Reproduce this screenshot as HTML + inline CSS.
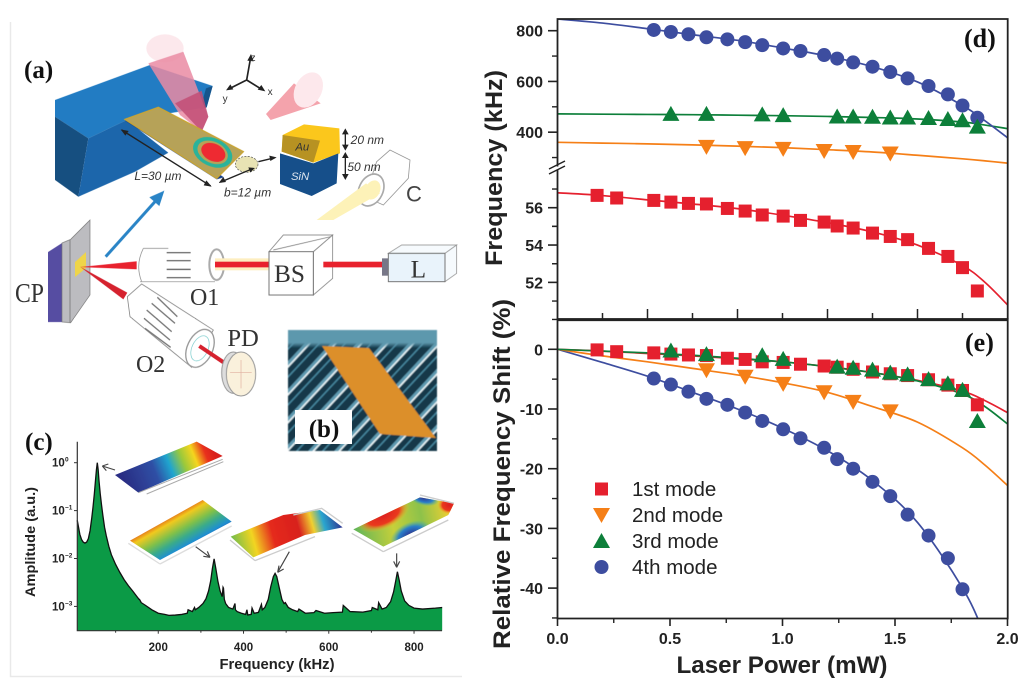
<!DOCTYPE html>
<html lang="en">
<head>
<meta charset="utf-8">
<title>Cantilever laser power frequency response</title>
<style>
html,body{margin:0;padding:0;background:#fff;}
svg{display:block;}
text{font-family:"Liberation Sans",sans-serif;}
.serif{font-family:"Liberation Serif",serif;}
#panels,#spectrum{filter:blur(0.35px);}
</style>
</head>
<body>
<svg id="figure" xmlns="http://www.w3.org/2000/svg" width="1024" height="690" viewBox="0 0 1024 690">
<defs>
  <filter id="soft" x="-5%" y="-5%" width="110%" height="110%"><feGaussianBlur stdDeviation="0.55"/></filter>
  <linearGradient id="inset1" gradientUnits="userSpaceOnUse" x1="380" y1="190" x2="640" y2="85">
    <stop offset="0" stop-color="#2b2f85"/><stop offset=".33" stop-color="#2f4fa5"/><stop offset=".5" stop-color="#1fa5cf"/><stop offset=".65" stop-color="#9cc93a"/><stop offset=".78" stop-color="#f5d51f"/><stop offset=".9" stop-color="#e8301f"/><stop offset="1" stop-color="#d8201f"/>
  </linearGradient>
  <linearGradient id="inset2" gradientUnits="userSpaceOnUse" x1="530" y1="262" x2="600" y2="385">
    <stop offset="0" stop-color="#d8201f"/><stop offset=".22" stop-color="#f1c91f"/><stop offset=".45" stop-color="#7fc04a"/><stop offset=".62" stop-color="#3aab8a"/><stop offset=".8" stop-color="#1f8fd0"/><stop offset="1" stop-color="#2f2f90"/>
  </linearGradient>
  <linearGradient id="inset3" gradientUnits="userSpaceOnUse" x1="700" y1="390" x2="1020" y2="300">
    <stop offset="0" stop-color="#6dbb50"/><stop offset=".2" stop-color="#f2d520"/><stop offset=".38" stop-color="#e52a1f"/><stop offset=".62" stop-color="#d8201f"/><stop offset=".75" stop-color="#f0d030"/><stop offset=".85" stop-color="#2aa6cf"/><stop offset="1" stop-color="#2f3a95"/>
  </linearGradient>
  <linearGradient id="inset4" gradientUnits="userSpaceOnUse" x1="1060" y1="330" x2="1350" y2="270">
    <stop offset="0" stop-color="#5fb45a"/><stop offset=".4" stop-color="#c6d03a"/><stop offset=".7" stop-color="#8dc24a"/><stop offset="1" stop-color="#f0d030"/>
  </linearGradient>
  <radialGradient id="redSpot"><stop offset="0" stop-color="#dd2020"/><stop offset=".6" stop-color="#ea3a1f"/><stop offset="1" stop-color="#f2c520" stop-opacity="0"/></radialGradient>
  <radialGradient id="blueSpot"><stop offset="0" stop-color="#2f2f90"/><stop offset=".6" stop-color="#2a7fc8"/><stop offset="1" stop-color="#40b0b0" stop-opacity="0"/></radialGradient>
  <linearGradient id="semTop" x1="0" y1="0" x2="0" y2="1">
    <stop offset="0" stop-color="#5d98ad"/><stop offset=".7" stop-color="#5d98ad"/><stop offset="1" stop-color="#5d98ad" stop-opacity="0"/>
  </linearGradient>
  <clipPath id="inset4Clip"><polygon points="1060,328 1260,232 1362,250 1345,285 1150,380"/></clipPath>
  <pattern id="semStripes" patternUnits="userSpaceOnUse" width="19" height="19" patternTransform="rotate(-47)">
    <rect width="19" height="19" fill="#12384a"/>
    <rect y="1" width="19" height="3" fill="#5e9ab0"/>
    <rect y="4" width="19" height="1.6" fill="#eaf5f8"/>
    <rect y="11" width="19" height="1.4" fill="#4a8ba3"/>
  </pattern>
  <clipPath id="plotD"><rect x="557.5" y="19" width="450" height="300"/></clipPath>
  <clipPath id="plotE"><rect x="557.5" y="320" width="450" height="298.5"/></clipPath>
</defs>

<rect x="0" y="0" width="1024" height="690" fill="#fff"/>
<path d="M10.5 22V676.5H462" fill="none" stroke="#e9e9e9" stroke-width="1.5"/>

<!-- Panel a upper: cantilever -->
<g transform="translate(0,20) scale(0.33333)">
  <g filter="url(#soft)">
    <polygon points="165,240 450,135 638,198 620,262 380,300 265,355 165,290" fill="#217cc3"/>
    <polygon points="165,290 265,355 235,530 165,480" fill="#174f80"/>
    <polygon points="265,355 380,300 505,398 405,455 235,530" fill="#1b66ab"/>
    <polygon points="618,205 638,198 620,262 600,270" fill="#17548c"/>
    <ellipse cx="495" cy="85" rx="56" ry="42" fill="#fce8ec"/>
    <polygon points="445,130 550,95 625,290 605,335 540,285" fill="#ea8ba3" opacity=".85"/>
    <polygon points="525,250 605,212 625,290 605,335" fill="#c24f75" opacity=".85"/>
    <polygon points="375,302 650,478 672,472 395,290" fill="#17408a"/>
    <polygon points="375,298 475,262 730,395 650,475" fill="#b6a258" stroke="#c9a535" stroke-width="4"/>
    <ellipse cx="638" cy="397" rx="62" ry="42" transform="rotate(25 638 397)" fill="#2cb39a"/>
    <ellipse cx="638" cy="397" rx="48" ry="32" transform="rotate(25 638 397)" fill="#b6a258"/>
    <ellipse cx="640" cy="397" rx="38" ry="26" transform="rotate(25 640 397)" fill="#ee2b32"/>
    <ellipse cx="740" cy="433" rx="34" ry="24" fill="#e8e3b4" stroke="#555" stroke-width="2" stroke-dasharray="6 4"/>
    <polygon points="882,190 962,250 812,300 798,282" fill="#f4a3ac"/>
    <ellipse cx="925" cy="210" rx="40" ry="56" transform="rotate(28 925 210)" fill="#fde8ec"/>
    <!-- axes triad -->
    <path d="M740 180L752 112M740 180L690 205M740 180L785 208" stroke="#222" stroke-width="5" fill="none"/>
    <path d="M753 102l-11 20 19 2zM678 211l22-3-9-15zM796 214l-12-19-11 14z" fill="#222"/>
    <!-- layered block -->
    <polygon points="848,345 912,313 1018,325 1020,400 940,428 845,395" fill="#fbc71f"/>
    <polygon points="848,345 960,362 940,428 845,395" fill="#b79223"/>
    <polygon points="840,400 940,430 1015,400 1010,490 935,528 840,492" fill="#14508a"/>
    <!-- dims -->
    <path d="M365 330L632 498M665 485L760 445M775 425L825 413M1036 330V388M1036 400V475" stroke="#222" stroke-width="4" fill="none"/>
    <path d="M362 328l24 5-10 14zM635 500l-24-4 8-15zM656 489l22-3-8-15zM765 444l-20-2 6 15zM830 412l-22-5 3 16zM1036 325l-10 18h20zM1036 392l-10-18h20zM1036 396l-10 18h20zM1036 480l-10-18h20z" fill="#222"/>
    <!-- collimator -->
    <polygon points="1130,425 1170,390 1230,420 1225,475 1150,555 1095,530" fill="#fff" stroke="#999" stroke-width="2.5"/>
    <ellipse cx="1113" cy="510" rx="36" ry="50" transform="rotate(25 1113 510)" fill="#fff" stroke="#aaa" stroke-width="5"/>
    <ellipse cx="1118" cy="510" rx="22" ry="30" transform="rotate(25 1118 510)" fill="#fdf2b8"/>
    <polygon points="1098,490 1140,520 1000,600 950,600" fill="#fdf2b8"/>
  </g>
  <text x="752" y="123" font-size="30" fill="#333">z</text>
  <text x="668" y="246" font-size="30" fill="#333">y</text>
  <text x="803" y="225" font-size="30" fill="#333">x</text>
  <text x="886" y="392" font-size="34" font-style="italic" fill="#333">Au</text>
  <text x="873" y="480" font-size="34" font-style="italic" fill="#dfe7f0">SiN</text>
  <text x="1052" y="372" font-size="36" font-style="italic" fill="#333">20 nm</text>
  <text x="1042" y="453" font-size="36" font-style="italic" fill="#333">50 nm</text>
  <text x="403" y="480" font-size="36" font-style="italic" fill="#333">L=30 µm</text>
  <text x="672" y="530" font-size="36" font-style="italic" fill="#333">b=12 µm</text>
  <text x="1218" y="545" font-size="66" fill="#444">C</text>
</g>
<text class="serif" x="24" y="78" font-size="25" font-weight="bold" fill="#111">(a)</text>

<!-- Panel a lower: optical path -->
<g transform="translate(40,190) scale(0.33333)">
  <g filter="url(#soft)">
    <polygon points="24,186 66,159 66,396 24,396" fill="#574ea2"/>
    <polygon points="66,159 92,148 150,90 150,315 92,398 66,396" fill="#bcbcc0" stroke="#777" stroke-width="2"/>
    <path d="M90 150V398" stroke="#666" stroke-width="2"/>
    <polygon points="105,216 138,186 138,234 105,261" fill="#efd548"/>
    <polygon points="120,231 290,214 290,238" fill="#e8202f"/>
    <polygon points="120,230 262,308 250,328" fill="#d5202f"/>
    <path d="M197 200L360 18" stroke="#2a84c6" stroke-width="9" fill="none"/>
    <path d="M373 2L328 22 358 48z" fill="#2a84c6"/>
    <!-- O1 -->
    <path d="M310 175H385M300 275H525M310 175Q285 225 305 275" fill="none" stroke="#999" stroke-width="2.5"/>
    <path d="M380 188H452M380 212H452M380 238H452M380 263H452" stroke="#666" stroke-width="4"/>
    <ellipse cx="530" cy="224" rx="22" ry="46" fill="none" stroke="#aaa" stroke-width="6"/>
    <rect x="525" y="205" width="165" height="36" fill="#fdeec0"/>
    <rect x="525" y="215" width="162" height="17" fill="#e8202f"/>
    <!-- BS -->
    <polygon points="820,185 878,135 878,265 820,315" fill="#fff" stroke="#888" stroke-width="2.5"/>
    <polygon points="687,185 730,135 878,135 820,185" fill="#fff" stroke="#888" stroke-width="2.5"/>
    <path d="M700 180L872 140" stroke="#888" stroke-width="2.5"/>
    <rect x="687" y="185" width="133" height="130" fill="#fff" stroke="#777" stroke-width="3"/>
    <rect x="850" y="215" width="180" height="17" fill="#e8202f"/>
    <!-- L -->
    <rect x="1026" y="205" width="20" height="52" fill="#778"/>
    <polygon points="1045,190 1085,165 1250,165 1215,190" fill="#f6fafd" stroke="#999" stroke-width="2.5"/>
    <polygon points="1215,190 1250,165 1250,250 1215,275" fill="#f6fafd" stroke="#999" stroke-width="2.5"/>
    <rect x="1045" y="190" width="170" height="85" fill="#e9f3fb" stroke="#777" stroke-width="3"/>
    <!-- O2 -->
    <polygon points="262,320 305,282 520,420 455,532 270,380" fill="#fff" stroke="#888" stroke-width="2.5"/>
    <path d="M352 322L412 380M335 340L405 400M320 360L395 425M312 385L390 450M315 415L392 472" stroke="#777" stroke-width="4"/>
    <ellipse cx="480" cy="475" rx="38" ry="60" transform="rotate(25 480 475)" fill="#fff" stroke="#999" stroke-width="4"/>
    <ellipse cx="480" cy="475" rx="24" ry="40" transform="rotate(25 480 475)" fill="#fff" stroke="#7cc" stroke-width="2"/>
    <path d="M478 468L555 520" stroke="#d5202f" stroke-width="12"/>
    <ellipse cx="580" cy="548" rx="35" ry="62" fill="#ddd" stroke="#999" stroke-width="3"/>
    <ellipse cx="603" cy="552" rx="44" ry="66" fill="#faf1dc" stroke="#999" stroke-width="3"/>
    <path d="M603 510V595M570 548H635" stroke="#e0b0a0" stroke-width="2"/>
  </g>
  <text class="serif" x="702" y="276" font-size="76" fill="#333">BS</text>
  <text class="serif" x="1112" y="262" font-size="76" fill="#333">L</text>
  <text class="serif" x="450" y="345" font-size="72" fill="#333">O1</text>
  <text class="serif" x="288" y="546" font-size="72" fill="#333">O2</text>
  <text class="serif" x="562" y="468" font-size="74" fill="#333">PD</text>
</g>
<text class="serif" x="15" y="302" font-size="27" fill="#333" textLength="29" lengthAdjust="spacingAndGlyphs">CP</text>

<!-- Panel b -->
<g>
  <g filter="url(#soft)">
    <rect x="288" y="330" width="149" height="121" fill="url(#semStripes)"/>
    <rect x="288" y="330" width="149" height="18" fill="url(#semTop)"/>
    <polygon points="322,346 369,348 436,438 380,434" fill="#dc8f2c"/>
  </g>
  <rect x="295" y="410" width="57" height="34" fill="#fff"/>
  <text class="serif" x="324" y="437" font-size="25" font-weight="bold" fill="#111" text-anchor="middle">(b)</text>
</g>

<!-- Panel c -->
<text class="serif" x="25" y="450" font-size="25" font-weight="bold" fill="#111">(c)</text>
<g id="spectrum"></g>
<g transform="translate(0,420) scale(0.33333)">
  <g filter="url(#soft)">
    <polygon points="345,165 590,65 668,108 415,218" fill="url(#inset1)"/>
    <path d="M415 218L668 118M440 222L670 125" stroke="#aaa" stroke-width="3" fill="none"/>
    <polygon points="390,362 608,240 695,305 480,420" fill="url(#inset2)"/>
    <path d="M480 432L695 318M385 370L480 432" stroke="#ddd" stroke-width="4" fill="none"/>
    <polygon points="692,350 850,285 960,270 1028,322 915,345 760,412" fill="url(#inset3)"/>
    <path d="M765 422L945 350M690 360L765 422M880 285L965 265 1028 310" stroke="#ccc" stroke-width="4" fill="none"/>
    <polygon points="1060,328 1260,232 1362,250 1345,285 1150,380" fill="url(#inset4)"/>
    <g clip-path="url(#inset4Clip)">
      <ellipse cx="1150" cy="285" rx="85" ry="42" transform="rotate(-25 1150 285)" fill="url(#redSpot)"/>
      <ellipse cx="1232" cy="345" rx="65" ry="38" transform="rotate(-25 1232 345)" fill="url(#blueSpot)"/>
      <ellipse cx="1270" cy="232" rx="48" ry="24" transform="rotate(15 1270 232)" fill="url(#blueSpot)"/>
      <ellipse cx="1348" cy="255" rx="36" ry="28" fill="url(#redSpot)"/>
    </g>
    <path d="M1150 395L1345 300M1055 340L1150 395M1260 225L1362 250" stroke="#ccc" stroke-width="4" fill="none"/>
    <g stroke="#444" stroke-width="3.5" fill="none">
      <path d="M345 150L307 138M307 138l18-6M307 138l12 14"/>
      <path d="M587 380L630 412M630 412l-20-3M630 412l-8-18"/>
      <path d="M868 395L833 457M833 457l4-20M833 457l18-10"/>
      <path d="M1190 400V442M1190 442l-9-18M1190 442l9-18"/>
    </g>
  </g>
</g>

<!-- Panels d and e -->
<g id="panels"></g>

<script>
// ---------- Panel d / e data ----------
const powerMode1 = [0.176,0.263,0.428,0.504,0.582,0.662,0.755,0.834,0.91,1.003,1.08,1.185,1.243,1.314,1.40,1.479,1.556,1.649,1.735,1.80,1.866];
const powerMode2 = [0.662,0.834,1.003,1.185,1.314,1.479];
const powerMode3 = [0.504,0.662,0.91,1.003,1.243,1.314,1.40,1.479,1.556,1.649,1.735,1.80,1.866];
const powerMode4 = [0.428,0.504,0.582,0.662,0.755,0.834,0.91,1.003,1.08,1.185,1.243,1.314,1.40,1.479,1.556,1.649,1.735,1.80,1.866];
const freqMode1 = [56.66,56.52,56.39,56.30,56.23,56.20,55.96,55.82,55.61,55.55,55.32,55.23,55.02,54.91,54.64,54.46,54.29,53.82,53.39,52.79,51.54];
const freqMode2 = [342,337,334,326,322,316];
const freqMode3 = [472,472,470,467,462,462,461,458,458,456,452,447,422];
const freqMode4 = [803,795,786,774,766,755,743,730,720,704,690,675,658,637,612,582,549,505,457];
const shiftMode1 = [-0.1,-0.4,-0.6,-0.8,-0.95,-1.05,-1.5,-1.7,-2.1,-2.2,-2.5,-2.8,-3.0,-3.35,-3.8,-4.1,-4.4,-5.1,-6.0,-6.9,-9.3];
const shiftMode2 = [-3.5,-4.6,-5.8,-7.2,-8.8,-10.4];
const shiftMode3 = [-0.2,-0.8,-1.0,-1.6,-2.9,-3.1,-3.4,-3.9,-4.2,-5.0,-5.7,-6.8,-12.0];
const shiftMode4 = [-4.9,-5.9,-7.1,-8.3,-9.3,-10.6,-12.0,-13.4,-14.9,-16.5,-18.4,-20.0,-22.2,-24.6,-27.7,-31.2,-35.0,-40.2];
const fitPower = [0,0.2,0.4,0.6,0.8,1.0,1.2,1.4,1.6,1.8,1.9,2.0];
const fitFreq1 = [56.8,56.65,56.42,56.2,55.95,55.6,55.2,54.7,54.0,52.9,52.0,50.8];
const fitFreq2 = [360,357,354,350,345,339,331,322,309,295,287,278];
const fitFreq3 = [472,471,470,469,467,465,462,458,452,440,428,414];
const fitFreq4 = [846,830,808,784,762,732,700,658,598,505,445,378];
const fitShift1 = [0,-0.3,-0.7,-1.1,-1.6,-2.1,-2.9,-3.9,-5.2,-7.0,-8.6,-10.6];
const fitShift2 = [0,-1.1,-2.1,-3.2,-4.3,-5.6,-7.2,-9.6,-12.2,-16.5,-19.4,-22.8];
const fitShift3 = [0,-0.3,-0.6,-1.0,-1.5,-2.1,-2.9,-3.9,-5.3,-7.5,-9.6,-12.5];
const fitShift4 = [0,-2.2,-4.5,-7.2,-10.0,-13.2,-17.0,-22.0,-29.0,-40.0,-48.0,-58.0];
const xTickLabels = ["0.0","0.5","1.0","1.5","2.0"];
const upperTickLabels = ["800","600","400"];
const lowerTickLabels = ["56","54","52"];
const shiftTickLabels = ["0","-10","-20","-30","-40"];
const legendLabels = ["1st mode","2nd mode","3rd mode","4th mode"];
// ---------- Panel c data ----------
const specFreq = [10,13,16,20,24,28,32,36,40,44,47,50,53,55,57,59,61,64,67,70,74,78,84,90,100,110,120,130,140,150,155,156,157,160,170,185,200,215,225,240,255,268,270,280,285,287,295,305,312,318,323,327,331,335,340,345,350,352,353,355,358,365,375,380,381,385,395,405,408,410,418,420,425,435,442,444,450,458,464,470,474,478,484,490,495,498,505,515,527,530,545,565,570,590,610,632,634,650,680,700,702,715,717,725,735,745,752,757,761,765,770,778,788,800,820,850,866];
const specAmp = [0.063,0.045,0.032,0.025,0.022,0.021,0.022,0.026,0.038,0.07,0.12,0.22,0.45,0.72,1.0,0.72,0.42,0.22,0.13,0.08,0.045,0.03,0.018,0.012,0.0075,0.0051,0.0036,0.0027,0.0021,0.0016,0.0014,0.0014,0.00135,0.0012,0.00105,0.00085,0.00072,0.00068,0.00065,0.00066,0.00068,0.00072,0.00085,0.00078,0.00095,0.00085,0.00095,0.00115,0.00145,0.0021,0.0034,0.0062,0.0098,0.0062,0.0033,0.0021,0.0016,0.0025,0.0024,0.0014,0.00115,0.00095,0.00088,0.00115,0.00085,0.00078,0.00072,0.00068,0.00085,0.00066,0.00068,0.00092,0.00072,0.00075,0.0011,0.00085,0.00095,0.0014,0.0026,0.0042,0.0049,0.0042,0.0024,0.0014,0.00115,0.0012,0.00095,0.00085,0.00078,0.00088,0.00072,0.00074,0.00082,0.00072,0.00074,0.00076,0.00105,0.00078,0.00076,0.00082,0.00095,0.00085,0.0012,0.00088,0.00095,0.00125,0.002,0.0034,0.0053,0.0036,0.0021,0.0013,0.00105,0.00092,0.00088,0.00092,0.00095];
const specTickFreq = [200,400,600,800];
const specMinorFreq = [100,300,500,700];
const specDecades = [0,-1,-2,-3];

const NS = "http://www.w3.org/2000/svg";
function el(parent, tag, attrs){
  const node = document.createElementNS(NS, tag);
  for (const k in attrs) node.setAttribute(k, attrs[k]);
  parent.appendChild(node);
  return node;
}
// Axis functions
const xP = p => 557.5 + p * 225;
const yUpper = f => 30.7 + (800 - f) * 0.2537;
const yLower = f => 207.7 + (56 - f) * 18.67;
const yShift = s => 349.3 - s * 5.97;
const xSpec = f => 73 + f * 0.4263;
const ySpec = a => 462.7 - Math.log10(a) * 47.9;

function smooth(pts){
  let d = "M" + pts[0][0].toFixed(2) + " " + pts[0][1].toFixed(2);
  for (let i = 0; i < pts.length - 1; i++){
    const p0 = pts[Math.max(i-1,0)], p1 = pts[i], p2 = pts[i+1], p3 = pts[Math.min(i+2,pts.length-1)];
    const c1x = p1[0] + (p2[0]-p0[0])/6, c1y = p1[1] + (p2[1]-p0[1])/6;
    const c2x = p2[0] - (p3[0]-p1[0])/6, c2y = p2[1] - (p3[1]-p1[1])/6;
    d += "C" + [c1x,c1y,c2x,c2y,p2[0],p2[1]].map(v => v.toFixed(2)).join(" ");
  }
  return d;
}
const COLORS = {1:"#e5202e",2:"#f57f17",3:"#0d7f3a",4:"#3d4d9f"};
const root = document.getElementById("panels");

function marker(parent, mode, cx, cy, scale){
  const s = scale || 1;
  let m;
  if (mode === 1) m = el(parent,"rect",{x:cx-6.5*s,y:cy-6.5*s,width:13*s,height:13*s,fill:COLORS[1]});
  else if (mode === 2) m = el(parent,"polygon",{points:[cx-8.5*s,cy-7*s,cx+8.5*s,cy-7*s,cx,cy+8*s].join(" "),fill:COLORS[2]});
  else if (mode === 3) m = el(parent,"polygon",{points:[cx-8.5*s,cy+7*s,cx+8.5*s,cy+7*s,cx,cy-8*s].join(" "),fill:COLORS[3]});
  else m = el(parent,"circle",{cx:cx,cy:cy,r:7*s,fill:COLORS[4]});
  return m;
}
function label(parent, x, y, str, size, anchor, weight, color){
  const t = el(parent,"text",{x:x,y:y,"font-size":size,"text-anchor":anchor||"middle","font-weight":weight||"bold",fill:color||"#222"});
  t.textContent = str;
  return t;
}

// ---- Panel d ----
const gD = el(root,"g",{});


const dCurves = el(gD,"g",{"clip-path":"url(#plotD)"});
const dFits = [[1,fitFreq1,yLower],[2,fitFreq2,yUpper],[3,fitFreq3,yUpper],[4,fitFreq4,yUpper]];
dFits.forEach(function(f){
  const path = el(dCurves,"path",{d:smooth(fitPower.map((p,i)=>[xP(p),f[2](f[1][i])])),fill:"none",stroke:COLORS[f[0]],"stroke-width":1.7});
  
  
});
const dMarks = [[1,powerMode1,freqMode1,yLower],[2,powerMode2,freqMode2,yUpper],[3,powerMode3,freqMode3,yUpper],[4,powerMode4,freqMode4,yUpper]];
[4,3,2,1].forEach(function(mode){
  const s = dMarks[mode-1];
  s[1].forEach(function(p,i){
    const m = marker(gD,mode,xP(p),s[3](s[2][i]));
    
    
  });
});
const frameD = el(gD,"path",{d:"M557.5 319V19H1007.7V319",fill:"none",stroke:"#222","stroke-width":1.8});


upperTickLabels.forEach(function(lbl){
  const v = Number(lbl), y = yUpper(v);
  el(gD,"line",{x1:548,x2:557.5,y1:y,y2:y,stroke:"#222","stroke-width":1.6});
  const minorY = yUpper(v-100);
  el(gD,"line",{x1:552,x2:557.5,y1:minorY,y2:minorY,stroke:"#222","stroke-width":1.4});
  const t = label(gD,543,y+6,lbl,16,"end");
  
  
});
lowerTickLabels.forEach(function(lbl){
  const v = Number(lbl), y = yLower(v);
  el(gD,"line",{x1:548,x2:557.5,y1:y,y2:y,stroke:"#222","stroke-width":1.6});
  const minorY = yLower(v+1);
  el(gD,"line",{x1:552,x2:557.5,y1:minorY,y2:minorY,stroke:"#222","stroke-width":1.4});
  const minorY2 = yLower(v-1);
  el(gD,"line",{x1:552,x2:557.5,y1:minorY2,y2:minorY2,stroke:"#222","stroke-width":1.4});
  const t = label(gD,543,y+6,lbl,16,"end");
  
  
});
const breakGap = el(gD,"rect",{x:555,y:166.5,width:5,height:3,fill:"#fff"});


const breakMark = el(gD,"path",{d:"M549 169L565 161M549 174L565 166",stroke:"#222","stroke-width":1.5,fill:"none"});


for (let i = 1; i < 10; i++){
  const x = xP(i*0.2);
  el(gD,"line",{x1:x,x2:x,y1:319,y2:i%2===0?309:313,stroke:"#222","stroke-width":1.5});
}
const titleD = label(gD,0,0,"Frequency (kHz)",24,"middle");
titleD.setAttribute("transform","translate(502,168) rotate(-90)");
titleD.setAttribute("textLength","196");
titleD.setAttribute("lengthAdjust","spacingAndGlyphs");


const labelD = el(gD,"text",{x:964,y:47,"font-size":26,"font-weight":"bold",fill:"#111","class":"serif"});
labelD.textContent = "(d)";



// ---- Panel e ----
const gE = el(root,"g",{});


const eClip = el(gE,"g",{"clip-path":"url(#plotE)"});
const eFits = [[4,fitShift4],[2,fitShift2],[1,fitShift1],[3,fitShift3]];
eFits.forEach(function(f){
  const path = el(eClip,"path",{d:smooth(fitPower.map((p,i)=>[xP(p),yShift(f[1][i])])),fill:"none",stroke:COLORS[f[0]],"stroke-width":1.7});
  
  
});
const eMarks = [[4,powerMode4.slice(0,shiftMode4.length),shiftMode4],[2,powerMode2,shiftMode2],[1,powerMode1,shiftMode1],[3,powerMode3,shiftMode3]];
eMarks.forEach(function(s){
  s[1].forEach(function(p,i){
    const m = marker(gE,s[0],xP(p),yShift(s[2][i]));
    
    
  });
});
const frameE = el(gE,"path",{d:"M557.5 319.3H1007.7V618.5H557.5Z",fill:"none",stroke:"#222","stroke-width":1.8});


el(gE,"line",{x1:557.5,x2:1007.7,y1:319.6,y2:319.6,stroke:"#222","stroke-width":3});
shiftTickLabels.forEach(function(lbl){
  const v = Number(lbl), y = yShift(v);
  el(gE,"line",{x1:548,x2:557.5,y1:y,y2:y,stroke:"#222","stroke-width":1.6});
  const minorY = yShift(v-5);
  el(gE,"line",{x1:552,x2:557.5,y1:minorY,y2:minorY,stroke:"#222","stroke-width":1.4});
  const t = label(gE,543,y+6,lbl,16,"end");
  
  
});
el(gE,"line",{x1:552,x2:557.5,y1:yShift(5),y2:yShift(5),stroke:"#222","stroke-width":1.4});
xTickLabels.forEach(function(lbl){
  const v = Number(lbl), x = xP(v);
  el(gE,"line",{x1:x,x2:x,y1:618.5,y2:626,stroke:"#222","stroke-width":1.6});
  if (v < 2){
    const mx = xP(v+0.25);
    el(gE,"line",{x1:mx,x2:mx,y1:618.5,y2:623,stroke:"#222","stroke-width":1.4});
  }
  const t = label(gE,x,644,lbl,16,"middle");
  
  
});
const titleE = label(gE,0,0,"Relative Frequency Shift (%)",24,"middle");
titleE.setAttribute("transform","translate(510,474) rotate(-90)");
titleE.setAttribute("textLength","350");
titleE.setAttribute("lengthAdjust","spacingAndGlyphs");


const titleX = label(gE,782,673,"Laser Power (mW)",24,"middle");
titleX.setAttribute("textLength","211");
titleX.setAttribute("lengthAdjust","spacingAndGlyphs");


const labelE = el(gE,"text",{x:965,y:351,"font-size":26,"font-weight":"bold",fill:"#111","class":"serif"});
labelE.textContent = "(e)";



legendLabels.forEach(function(txt,i){
  const y = 489 + i*26;
  const g = el(gE,"g",{});
  
  
  marker(g,i+1,601.5,y);
  const t = label(g,632,y+7,txt,20.5,"start","normal","#222");
  
  
});

// ---- Panel c spectrum ----
const spec = document.getElementById("spectrum");
const BOTTOM = 630.7;
const specPts = specFreq.map((f,i)=>[xSpec(f),ySpec(specAmp[i])]);
const lineD = "M" + specPts.map(p=>p[0].toFixed(2)+" "+p[1].toFixed(2)).join("L");
const area = el(spec,"path",{d:lineD+"L"+specPts[specPts.length-1][0].toFixed(2)+" "+BOTTOM+"L"+specPts[0][0].toFixed(2)+" "+BOTTOM+"Z",fill:"#0b9a46"});


const line = el(spec,"path",{d:lineD,fill:"none",stroke:"#111","stroke-width":1.3});


const specAxes = el(spec,"path",{d:"M77.3 441.7V"+BOTTOM+"H442",fill:"none",stroke:"#333","stroke-width":1.2});


specTickFreq.forEach(function(f){
  el(spec,"line",{x1:xSpec(f),x2:xSpec(f),y1:BOTTOM,y2:BOTTOM+3,stroke:"#333","stroke-width":1});
  const t = label(spec,xSpec(f),651,String(f),11.5,"middle");
  
  
});
specMinorFreq.forEach(function(f){
  el(spec,"line",{x1:xSpec(f),x2:xSpec(f),y1:BOTTOM,y2:BOTTOM+2,stroke:"#333","stroke-width":1});
});
specDecades.forEach(function(d){
  const y = ySpec(Math.pow(10,d));
  el(spec,"line",{x1:74,x2:77.3,y1:y,y2:y,stroke:"#333","stroke-width":1});
  const t = el(spec,"text",{x:52,y:y+4,"font-size":11.5,"font-weight":"bold",fill:"#222"});
  
  
  t.textContent = "10";
  const sup = el(spec,"text",{x:65,y:y-1,"font-size":6.5,"font-weight":"bold",fill:"#222"});
  
  
  sup.textContent = String(d).replace("-","\u2212");
});
const specTitleX = label(spec,277,669,"Frequency (kHz)",15,"middle");
specTitleX.setAttribute("textLength","115");
specTitleX.setAttribute("lengthAdjust","spacingAndGlyphs");


const specTitleY = label(spec,0,0,"Amplitude (a.u.)",14,"middle");
specTitleY.setAttribute("transform","translate(35,542) rotate(-90)");
specTitleY.setAttribute("textLength","110");
specTitleY.setAttribute("lengthAdjust","spacingAndGlyphs");


</script>
</body>
</html>
